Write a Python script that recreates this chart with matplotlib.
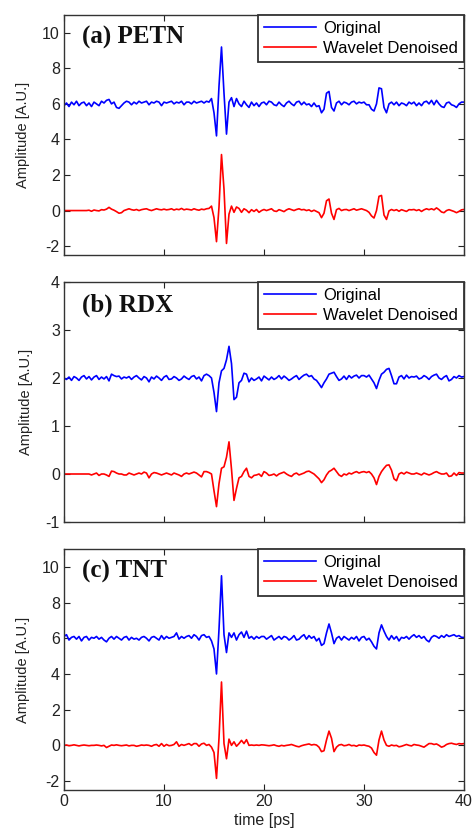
import numpy as np
import matplotlib
matplotlib.use("Agg")
import matplotlib.pyplot as plt

plt.rcParams['font.family'] = ['Liberation Sans', 'DejaVu Sans']
plt.rcParams['axes.unicode_minus'] = False

# time axis [ps], sampled every 0.25 ps
dt = 0.25
t = np.arange(0, 40 + dt / 2, dt)

panel_labels = ["(a) PETN", "(b) RDX", "(c) TNT"]
legend_labels = ["Original", "Wavelet Denoised"]
offsets = [6, 2, 6]
ylims = [(-2.5, 11), (-1, 4), (-2.5, 11)]
yticks = [[-2, 0, 2, 4, 6, 8, 10], [-1, 0, 1, 2, 3, 4], [-2, 0, 2, 4, 6, 8, 10]]
xticks = [0, 10, 20, 30, 40]

# ---- (a) PETN ----
orig_a = [
    -0.1, 0.05, -0.15, 0.1, -0.05, 0.15, -0.1, 0.05, 0.1, -0.1, 0.05, -0.15, 0.1, 0.0, -0.1, 0.15, 0.05, 0.2, 0.25, 0.0,
    0.1, -0.2, -0.25, -0.1, 0.05, 0.15, 0.1, -0.05, 0.1, 0.0, 0.15, 0.05, 0.1, 0.15, -0.05, 0.1, 0.05, 0.15, 0.1, -0.1,
    0.1, 0.05, 0.1, 0.15, 0.0, 0.1, 0.05, 0.15, -0.05, 0.1, 0.1, 0.0, 0.15, 0.05, 0.1, 0.15, 0.05, 0.15, 0.1, 0.3,
    -0.5, -1.8, 1.0, 3.2, 0.6, -1.7, 0.1, 0.35, -0.15, 0.3, 0.0, -0.15, 0.15, -0.05, -0.2, 0.1, -0.1, 0.05, -0.15, 0.05,
    0.1, -0.05, 0.15, 0.1, -0.05, -0.1, 0.1, -0.05, -0.15, 0.05, 0.15, 0.0, -0.1, 0.1, 0.15, -0.05, 0.1, -0.05, 0.0, -0.15,
    0.05, -0.15, -0.1, -0.5, -0.3, 0.6, 0.7, -0.2, -0.4, 0.05, 0.15, -0.05, 0.1, 0.05, -0.05, 0.1, 0.15, 0.0, 0.1, 0.05,
    0.1, -0.05, -0.05, -0.3, -0.4, 0.0, 0.9, 0.85, -0.2, -0.5, 0.0, 0.1, -0.05, 0.1, -0.1, 0.05, 0.0, -0.1, 0.1, 0.0,
    0.1, -0.1, 0.05, -0.1, 0.1, 0.15, 0.0, 0.2, -0.05, 0.2, 0.0, -0.15, -0.2, 0.05, 0.1, -0.05, -0.1, -0.2, 0.0, 0.1,
    0.1]
den_a = [
    0.0, 0.0, 0.0, 0.0, 0.0, 0.0, 0.0, 0.0, 0.0, 0.0, 0.02, -0.04, 0.03, 0.0, -0.02, 0.05, 0.03, 0.08, 0.18, 0.08,
    0.02, -0.06, -0.15, -0.12, 0.0, 0.05, 0.1, 0.05, 0.02, 0.06, 0.0, 0.05, 0.08, 0.1, 0.04, 0.0, 0.05, 0.1, 0.06, 0.04,
    0.08, 0.04, 0.06, 0.1, 0.03, 0.08, 0.05, 0.12, 0.04, 0.08, 0.06, 0.03, 0.1, 0.05, 0.02, 0.08, 0.05, 0.1, 0.12, 0.25,
    -0.4, -1.75, 0.2, 3.15, 1.2, -1.85, -0.2, 0.25, -0.1, 0.2, 0.12, -0.1, 0.1, 0.02, -0.12, 0.05, -0.05, 0.06, -0.1, 0.0,
    0.06, 0.0, 0.05, 0.1, -0.02, -0.05, 0.05, 0.0, -0.06, 0.04, 0.1, 0.05, 0.0, 0.06, 0.1, 0.04, 0.06, 0.0, 0.04, -0.05,
    0.02, -0.05, -0.12, -0.4, -0.15, 0.55, 0.65, -0.15, -0.5, 0.05, 0.12, 0.0, 0.05, 0.06, 0.0, 0.05, 0.1, 0.02, 0.06, 0.1,
    0.05, 0.0, -0.1, -0.3, -0.42, 0.0, 0.8, 0.85, -0.25, -0.5, -0.02, 0.06, 0.0, 0.05, -0.04, 0.05, 0.0, -0.05, 0.05, 0.04,
    0.06, 0.0, 0.05, -0.05, 0.04, 0.1, 0.05, 0.1, 0.04, 0.15, 0.05, -0.08, -0.12, 0.0, 0.05, 0.0, -0.05, -0.12, -0.05, 0.04,
    0.06]

# ---- (b) RDX ----
orig_b = [
    0.0, -0.03, 0.02, -0.05, 0.03, 0.0, -0.05, 0.02, 0.05, -0.02, 0.03, -0.04, 0.02, 0.05, -0.03, 0.02, -0.02, 0.03, -0.06, 0.08,
    0.05, 0.03, 0.04, -0.02, 0.02, 0.0, 0.03, -0.03, 0.02, 0.05, 0.0, -0.04, 0.03, 0.0, -0.08, 0.02, -0.02, 0.04, 0.0, -0.05,
    0.02, 0.05, -0.03, -0.02, 0.03, 0.0, -0.05, -0.02, 0.04, 0.0, -0.03, 0.03, 0.05, -0.02, 0.02, -0.06, 0.05, 0.08, 0.05, 0.0,
    -0.3, -0.7, -0.1, 0.15, 0.2, 0.38, 0.66, 0.3, -0.45, -0.4, -0.1, -0.05, 0.1, 0.08, -0.08, 0.0, -0.05, -0.02, 0.02, -0.06,
    0.04, 0.0, -0.04, 0.02, -0.03, 0.0, 0.05, -0.02, 0.04, 0.0, -0.05, -0.02, 0.02, 0.05, -0.03, 0.02, 0.06, 0.08, 0.03, 0.05,
    -0.02, -0.05, -0.12, -0.2, -0.1, -0.02, 0.08, 0.1, 0.12, 0.03, -0.05, -0.02, 0.04, -0.03, 0.05, 0.0, 0.04, 0.06, 0.0, 0.05,
    0.05, 0.02, 0.06, -0.02, -0.1, -0.22, -0.05, 0.08, 0.12, 0.18, 0.2, 0.05, -0.12, -0.12, 0.02, 0.05, -0.02, 0.06, 0.0, 0.03,
    0.02, 0.04, -0.02, 0.0, 0.05, 0.02, -0.03, 0.03, 0.06, 0.08, 0.0, -0.03, 0.02, 0.05, -0.06, -0.03, 0.03, 0.0, 0.05, 0.02,
    0.03]
den_b = [
    0.0, 0.0, 0.0, 0.0, 0.0, 0.0, 0.0, 0.0, 0.0, 0.0, 0.0, -0.02, 0.0, 0.02, -0.03, 0.0, 0.0, -0.02, -0.05, 0.06,
    0.05, 0.02, 0.0, 0.0, -0.02, -0.02, 0.02, 0.0, -0.02, 0.0, 0.02, 0.0, 0.04, 0.02, -0.08, 0.0, 0.03, 0.02, 0.0, -0.02,
    0.0, 0.02, 0.0, -0.02, 0.02, 0.0, -0.02, -0.05, 0.0, 0.02, 0.0, 0.02, 0.04, 0.02, -0.02, -0.06, 0.05, 0.05, 0.03, 0.0,
    -0.35, -0.68, -0.2, 0.12, 0.15, 0.35, 0.67, 0.1, -0.55, -0.3, -0.08, -0.05, 0.05, 0.12, -0.05, -0.08, -0.03, -0.02, 0.0, -0.05,
    0.05, 0.02, -0.03, -0.02, 0.0, -0.04, 0.0, 0.02, 0.04, 0.0, -0.03, -0.05, 0.0, 0.02, -0.02, 0.0, 0.02, 0.05, 0.06, 0.03,
    0.0, -0.05, -0.1, -0.18, -0.12, -0.02, 0.05, 0.08, 0.12, 0.05, -0.02, -0.05, 0.0, -0.02, 0.02, 0.0, 0.03, 0.05, 0.02, 0.04,
    0.05, 0.03, 0.05, 0.0, -0.08, -0.22, -0.05, 0.05, 0.12, 0.18, 0.19, 0.08, -0.1, -0.14, 0.0, 0.03, 0.0, 0.04, 0.02, 0.0,
    0.0, 0.02, 0.0, -0.02, 0.02, 0.0, -0.02, 0.0, 0.03, 0.05, 0.02, 0.0, 0.0, 0.02, -0.05, -0.04, 0.02, -0.03, 0.03, 0.02,
    0.02]

# ---- (c) TNT ----
orig_c = [
    0.1, 0.2, -0.1, 0.05, 0.1, -0.05, 0.1, -0.15, 0.05, 0.1, -0.1, 0.05, 0.0, 0.1, -0.05, 0.05, -0.1, -0.2, 0.0, 0.1,
    -0.05, 0.1, 0.0, -0.1, 0.05, 0.1, -0.1, 0.05, -0.05, 0.0, -0.1, 0.05, 0.1, 0.0, -0.15, 0.05, 0.1, 0.0, -0.1, 0.15,
    -0.05, 0.1, 0.0, 0.05, 0.1, 0.3, -0.05, 0.1, 0.0, 0.1, 0.15, 0.0, 0.2, 0.1, -0.1, 0.15, 0.2, 0.05, 0.1, -0.15,
    -0.6, -2.0, 0.5, 3.5, 0.2, -0.8, 0.3, 0.05, 0.3, -0.1, 0.2, 0.35, 0.05, 0.4, 0.0, 0.1, -0.05, 0.1, 0.0, 0.1,
    0.1, -0.05, 0.05, 0.15, -0.1, 0.0, 0.1, -0.05, 0.1, 0.05, -0.1, 0.0, 0.15, -0.1, -0.05, 0.1, 0.2, -0.05, 0.15, 0.0,
    0.1, -0.15, 0.0, -0.4, -0.3, 0.3, 0.8, 0.3, -0.3, 0.0, 0.1, -0.1, 0.1, 0.0, -0.1, 0.05, -0.05, 0.1, -0.15, 0.05,
    0.1, -0.1, 0.0, -0.2, -0.45, -0.6, 0.3, 0.75, 0.4, 0.1, -0.1, 0.15, -0.05, 0.1, -0.15, 0.05, 0.0, 0.1, -0.05, 0.1,
    0.2, 0.05, 0.15, 0.0, 0.1, -0.1, -0.2, 0.05, 0.15, 0.1, 0.0, 0.15, 0.05, 0.2, 0.1, 0.15, 0.2, 0.1, 0.15, 0.05,
    0.05]
den_c = [
    0.0, 0.02, -0.02, 0.0, 0.03, 0.0, -0.03, 0.0, 0.02, 0.0, -0.02, 0.0, 0.0, 0.02, 0.0, -0.03, 0.0, -0.12, -0.05, 0.02,
    0.0, 0.03, 0.0, -0.02, 0.0, 0.02, -0.03, 0.0, 0.0, -0.05, -0.02, 0.02, 0.0, 0.02, 0.0, -0.05, 0.02, 0.05, -0.05, 0.1,
    -0.05, 0.05, -0.02, 0.0, 0.05, 0.2, -0.05, 0.05, 0.0, 0.05, 0.1, 0.0, 0.1, 0.1, -0.05, 0.08, 0.12, 0.0, 0.05, -0.1,
    -0.4, -1.85, 0.4, 3.55, 0.1, -0.75, 0.35, 0.0, 0.2, -0.05, 0.1, 0.28, 0.1, 0.32, 0.0, 0.02, 0.0, 0.02, 0.0, 0.03,
    0.02, 0.0, -0.02, 0.0, 0.03, -0.02, -0.05, 0.0, -0.03, 0.0, 0.02, 0.05, 0.0, -0.05, -0.08, -0.02, 0.02, 0.05, 0.08, 0.02,
    0.05, 0.02, -0.1, -0.35, -0.3, 0.3, 0.8, 0.4, -0.35, -0.1, 0.02, 0.05, -0.02, 0.0, 0.05, -0.02, 0.0, -0.05, 0.02, 0.0,
    0.02, -0.02, -0.05, -0.15, -0.4, -0.55, 0.3, 0.8, 0.3, 0.0, -0.05, 0.02, -0.02, 0.0, -0.08, -0.05, 0.0, 0.05, 0.0, -0.03,
    0.05, 0.02, 0.0, -0.05, -0.1, 0.0, 0.1, 0.1, 0.05, 0.08, 0.0, -0.1, -0.05, 0.05, 0.1, 0.12, 0.08, 0.05, 0.1, 0.08,
    0.1]

originals = [orig_a, orig_b, orig_c]
denoised = [den_a, den_b, den_c]

fig = plt.figure(figsize=(4.73, 8.31), dpi=100)
left, width = 64 / 473, 400 / 473
rects = [(15, 255), (282, 522), (549, 790)]

for k in range(3):
    top_px, bot_px = rects[k]
    ax = fig.add_axes([left, 1 - bot_px / 831, width, (bot_px - top_px) / 831])
    ax.plot(t, np.array(originals[k]) + offsets[k], color='#0000ff', lw=1.2,
            label=legend_labels[0])
    ax.plot(t, denoised[k], color='#ff0000', lw=1.2, label=legend_labels[1])
    ax.set_xlim(0, 40)
    ax.set_ylim(*ylims[k])
    ax.set_xticks(xticks)
    ax.set_yticks(yticks[k])
    ax.tick_params(direction='in', top=True, right=True, length=4, width=0.8,
                   labelsize=11.5, colors='#222222', pad=3)
    for s in ax.spines.values():
        s.set_color('#333333')
        s.set_linewidth(1.0)
    if k < 2:
        ax.tick_params(labelbottom=False)
    else:
        ax.set_xlabel('time [ps]', fontsize=11.5, color='#222222', labelpad=3)
    ax.set_ylabel('Amplitude [A.U.]', fontsize=10.5, color='#222222', labelpad=9)
    ax.text(0.045, 0.905, panel_labels[k], transform=ax.transAxes,
            family=['Liberation Serif', 'DejaVu Serif'], fontweight='bold',
            fontsize=18, va='center', ha='left', color='#111111')
    leg = ax.legend(loc='upper right', bbox_to_anchor=(1, 1), borderaxespad=0,
                    fancybox=False, fontsize=12, handlelength=3.1,
                    handletextpad=0.45, borderpad=0.35, labelspacing=0.3,
                    framealpha=1)
    leg.get_frame().set_edgecolor('#333333')
    leg.get_frame().set_linewidth(1.3)

fig.savefig('out.png', dpi=100)
